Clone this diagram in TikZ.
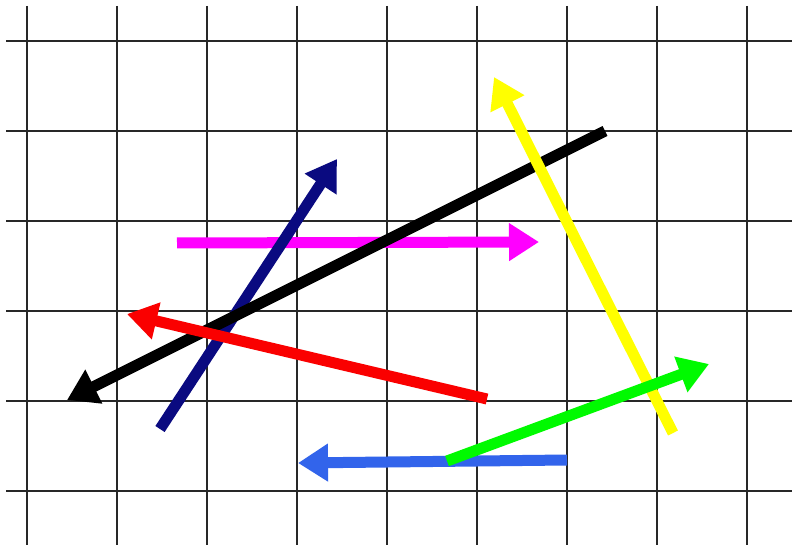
\documentclass[tikz,border=0pt]{standalone}
\usetikzlibrary{arrows.meta}
\definecolor{gridc}{RGB}{40,40,40}
\definecolor{navyc}{RGB}{10,10,128}
\definecolor{magc}{RGB}{255,0,255}
\definecolor{redc}{RGB}{250,0,0}
\definecolor{yelc}{RGB}{255,255,0}
\definecolor{grnc}{RGB}{0,250,0}
\definecolor{bluc}{RGB}{50,100,235}
\begin{document}
\begin{tikzpicture}[x=1pt,y=-1pt,
  gridline/.style={draw=gridc,line width=2.2pt},
  vec/.style={line width=11pt,-{Triangle[length=30pt,width=36pt]}}]
\useasboundingbox (0,0) rectangle (792,545);
\fill[white] (0,0) rectangle (792,545);
% grid
\foreach \x in {27,117,207,297,387,477,567,657,747}
  \draw[gridline] (\x,6) -- (\x,545);
\foreach \y in {41,131,221,311,401,491}
  \draw[gridline] (6,\y) -- (792,\y);
% endpoints
\coordinate (navyA) at (160,429);
\coordinate (navyB) at (337,159);
\coordinate (magA) at (177,243);
\coordinate (magB) at (539,242);
\coordinate (blkA) at (605,131);
\coordinate (blkB) at (67,400);
\coordinate (redA) at (487,399);
\coordinate (redB) at (127,314);
\coordinate (yelA) at (673,433);
\coordinate (yelB) at (494,77);
\coordinate (grnA) at (447,461);
\coordinate (grnB) at (709,364);
\coordinate (bluA) at (567,460);
\coordinate (bluB) at (298,463);
% arrows
\draw[vec,draw=magc,fill=magc] (magA) -- (magB);
\draw[vec,draw=navyc,fill=navyc] (navyA) -- (navyB);
\draw[vec,draw=black,fill=black] (blkA) -- (blkB);
\draw[vec,draw=redc,fill=redc] (redA) -- (redB);
\draw[vec,draw=bluc,fill=bluc] (bluA) -- (bluB);
\draw[vec,draw=yelc,fill=yelc] (yelA) -- (yelB);
\draw[vec,draw=grnc,fill=grnc] (grnA) -- (grnB);
\end{tikzpicture}
\end{document}
